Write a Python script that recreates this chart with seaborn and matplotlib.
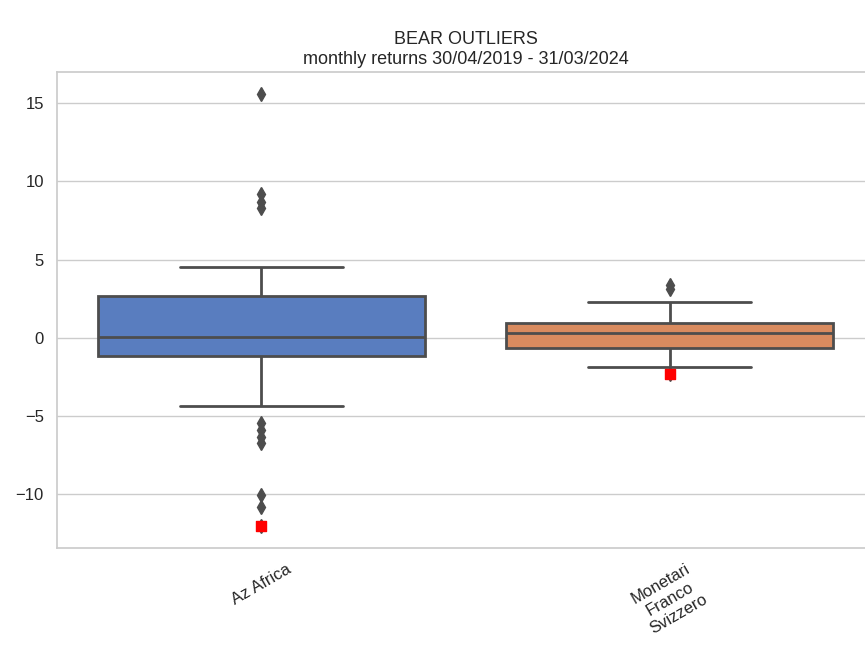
import numpy as np
import pandas as pd
import seaborn as sns
import matplotlib
matplotlib.use("Agg")
import matplotlib.pyplot as plt

# monthly returns (%), sorted
funds = ["Az Africa", "Monetari\nFranco\nSvizzero"]

az_africa = [-12.05, -10.8, -10.05, -6.7, -6.35, -5.9, -5.45,
             -4.35, -3.9, -3.3, -2.8, -2.4, -1.9, -1.6, -1.2, -1.13,
             -1.0, -0.9, -0.8, -0.7, -0.6, -0.5, -0.4, -0.3, -0.2, -0.15, -0.1, -0.05, 0.0,
             0.03, 0.07,
             0.2, 0.4, 0.6, 0.8, 1.0, 1.2, 1.4, 1.6, 1.8, 2.0, 2.2, 2.4, 2.6,
             2.68, 2.76,
             2.9, 3.0, 3.2, 3.4, 3.6, 3.8, 4.0, 4.2, 4.35, 4.5,
             8.3, 8.7, 9.2, 15.6]

monetari_chf = [-2.3, -1.86,
                -1.6, -1.4, -1.3, -1.2, -1.1, -1.0, -0.95, -0.9, -0.85, -0.8, -0.75, -0.7, -0.68,
                -0.63,
                -0.5, -0.4, -0.3, -0.2, -0.1, -0.05, 0.0, 0.05, 0.1, 0.15, 0.2, 0.25, 0.28,
                0.3, 0.34,
                0.38, 0.42, 0.46, 0.5, 0.55, 0.6, 0.65, 0.7, 0.75, 0.8, 0.85, 0.9, 0.93,
                0.95, 1.0,
                1.1, 1.2, 1.3, 1.4, 1.5, 1.6, 1.7, 1.8, 1.9, 2.0, 2.15, 2.3,
                3.1, 3.4]

returns = [az_africa, monetari_chf]

df = pd.DataFrame({
    "fund": np.repeat(funds, [len(r) for r in returns]),
    "ret": np.concatenate(returns),
})

sns.set_theme(style="whitegrid", palette="muted")
plt.rcParams["font.family"] = ["Liberation Sans", "DejaVu Sans"]

fig = plt.figure(figsize=(8.65, 6.51), dpi=100)
ax = fig.add_axes([57 / 865, 1 - 548 / 651, 817 / 865, 476 / 651])

gray = "#4d4d4d"
sns.boxplot(data=df, x="fund", y="ret", hue="fund", palette="muted", legend=False,
            whis=1.0, linewidth=2, linecolor=gray, saturation=0.75,
            flierprops=dict(marker="d", markerfacecolor=gray, markeredgecolor=gray,
                            markersize=7), ax=ax)

# worst month of each fund in red
for i, r in enumerate(returns):
    ax.scatter(i, min(r), marker="s", color="red", s=45, zorder=5)

ax.set_xlim(-0.5, 1.5)
ax.set_xlabel("")
ax.set_ylabel("")
ax.set_yticks([-10, -5, 0, 5, 10, 15])
ax.tick_params(axis="both", labelsize=12)
plt.setp(ax.get_xticklabels(), rotation=30, multialignment="center")
ax.set_title("BEAR OUTLIERS\nmonthly returns 30/04/2019 - 31/03/2024", fontsize=13)

fig.savefig("out.png", dpi=100)
